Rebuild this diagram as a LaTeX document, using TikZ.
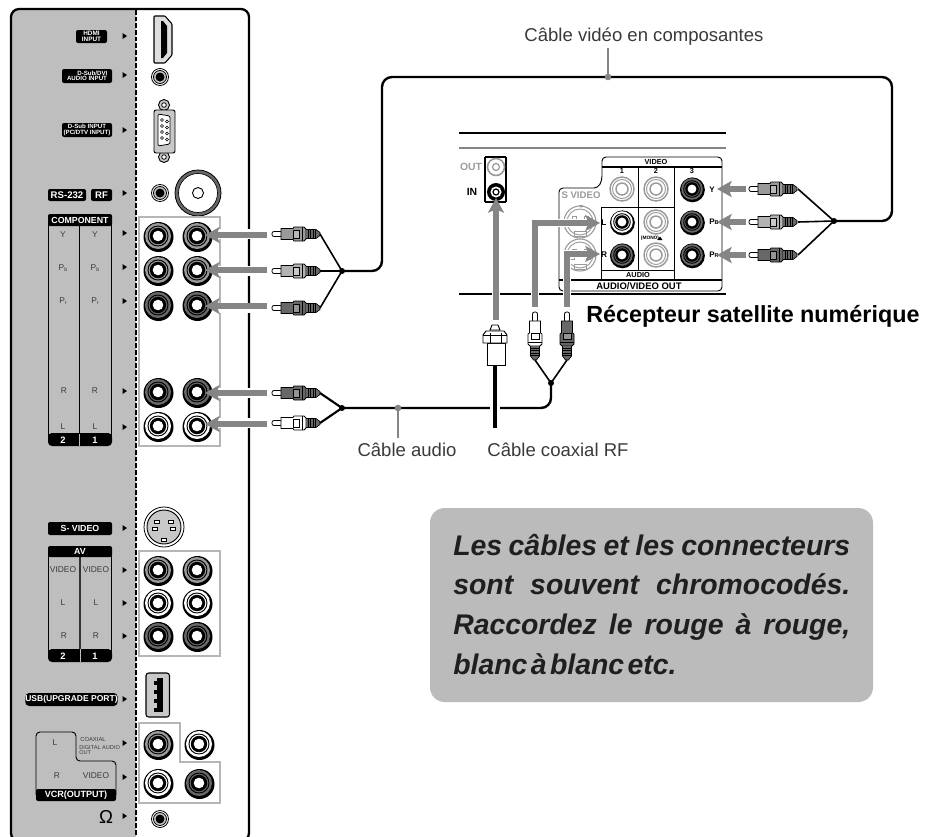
\documentclass[tikz,border=0pt]{standalone}
\usepackage{fontspec}
\setmainfont{Liberation Sans}
\usetikzlibrary{arrows.meta}
\definecolor{panelg}{HTML}{BEBEBE}
\definecolor{arrg}{HTML}{858585}
\definecolor{boxg}{HTML}{BBBBBB}
\definecolor{lightj}{HTML}{C8C8C8}
\definecolor{midj}{HTML}{9A9A9A}
\definecolor{darkj}{HTML}{686868}
\definecolor{txtg}{HTML}{3A3A3A}
\newcommand\fsz[1]{\fontsize{#1}{#1}\selectfont}
% RCA jack: x y scale colour
\newcommand\jackr[4]{\begin{scope}[shift={(#1,#2)},scale=#3]
 \fill[black] (0.5,1) circle (15);
 \fill[#4] (0,0) circle (13);
 \draw[line width=.7pt] (0,0) circle (10);
 \fill[black] (0,0) circle (8.2);
 \fill[white] (0,0) circle (5.3);
\end{scope}}
% pale jack of the receiver
\newcommand\jackp[2]{\begin{scope}[shift={(#1,#2)}]
 \draw[midj,fill=white,line width=1.1pt] (0,0) circle (12);
 \draw[midj,line width=.7pt] (0,0) circle (9.5);
 \draw[midj,line width=1.1pt] (0,0) circle (6);
\end{scope}}
% small audio jack
\newcommand\jacks[2]{\begin{scope}[shift={(#1,#2)}]
 \draw[fill=white,line width=.6pt] (0,0) circle (8.5);
 \draw[fill=lightj,line width=.6pt] (0,0) circle (6.5);
 \fill[black] (0,0) circle (4.5);
\end{scope}}
% RCA plug: x y rotation colour (tip at x y)
\newcommand\plugr[4]{\begin{scope}[shift={(#1,#2)},rotate=#3]
 \draw[fill=white,line width=.6pt,rounded corners=1.5] (0,-2.5) rectangle (10,2.5);
 \draw[fill=#4,line width=.6pt] (9,-5.5)--(21,-5.5)--(22,-7)--(32,-7)--(34,-5)--(34,5)--(32,7)--(22,7)--(21,5.5)--(9,5.5)--cycle;
 \draw[line width=.5pt,fill=#4!70!white] (21,-4)rectangle(27,4);
 \draw[line width=.5pt] (30,-7)--(30,7);
 \fill[darkj] (34,-4.5)--(44,-4.5)--(48,-1.5)--(48,1.5)--(44,4.5)--(34,4.5)--cycle;
 \draw[line width=.5pt] (34,-4.5)--(44,-4.5)--(48,-1.5)--(48,1.5)--(44,4.5)--(34,4.5);
 \foreach \q in {36,38.5,41,43.5}{\draw[line width=.7pt] (\q,-4.5)--(\q,4.5);}
\end{scope}}
% black label given by its corners
\newcommand\blab[7][]{\node[blk,#1,minimum width={(#5-#3)*0.75pt},minimum height={(#6-#4)*0.75pt}] (#2) at ({(#3+#5)/2},{(#4+#6)/2}) {#7};}
\tikzset{
 blk/.style={fill=black,rounded corners=1.5pt,text=white,inner sep=0pt,align=center,font=\bfseries\fsz{4.8}},
 ptxt/.style={text=txtg,inner sep=0pt,font=\fsz{6.3}},
 captext/.style={text=txtg,inner sep=0pt,font=\fsz{13.9}},
 cable/.style={line width=1.8pt,black,rounded corners=7.5pt,line cap=round},
 fork/.style={line width=1.2pt,black},
 leader/.style={arrg,line width=1.6pt},
 grid/.style={line width=.7pt,black},
 gbox/.style={arrg!60!white,line width=1.6pt},
 devline/.style={line width=.9pt,black},
 halo/.style={white,line width=7.5pt},
 garr/.style={arrg,line width=4pt,-{Stealth[length=11pt,width=12pt,inset=2.5pt]}},
 devt/.style={inner sep=0pt,font=\bfseries\fsz{5.5}},
 notet/.style={inner sep=0pt,anchor=base west,text=black!88,font=\bfseries\itshape\fsz{21.3}},
}
\begin{document}
\begin{tikzpicture}[x=0.75pt,y=-0.75pt]
\useasboundingbox (0,0) rectangle (936,836);
\clip (0,0) rectangle (936,836);
\fill[white] (0,0) rectangle (936,836);

% ===== TV panel =====
\fill[panelg,rounded corners=6pt] (11,9) rectangle (136,841);
\fill[panelg] (100,9) rectangle (136,841);
\draw[line width=1.7pt,rounded corners=6pt] (11,9) rectangle (249,841);
\draw[line width=1.1pt,dash pattern=on 3.5pt off 1.5pt] (136,10) -- (136,836);
\foreach \yy in {36,75,130,193,233,267,301,391,427,528,570,603,636,699,743,777,816}{
 \fill[black] (122.5,\yy-3) -- (127,\yy) -- (122.5,\yy+3) -- cycle;}

% labels
\blab{lhdmi}{76}{30}{107}{43}{HDMI\\[-.5pt]INPUT}
\blab[font=\bfseries\fsz{4.6}]{laud}{62}{69}{112}{83}{\hspace*{8pt}D-Sub/DVI\\[-.5pt]AUDIO INPUT}
\blab[font=\bfseries\fsz{4.6}]{lsub}{62}{123}{112}{137}{D-Sub INPUT\\[-.5pt](PC/DTV INPUT)}
\blab[font=\bfseries\fsz{7.2}]{lrs}{48}{189}{86}{201}{RS-232}
\blab[font=\bfseries\fsz{7.2}]{lrf}{91}{189}{112}{201}{RF}

% COMPONENT block
\draw[grid] (48,220) -- (48,440) (79,220) -- (79,446) (111,220) -- (111,440);
\blab[font=\bfseries\fsz{6.6}]{lcomp}{48}{214}{112}{226}{COMPONENT}
\blab[font=\bfseries\fsz{7},rounded corners=3pt]{lbar}{48}{433}{112}{446}{}
\draw[panelg,line width=.5pt] (79,434) -- (79,446);
\node[text=white,inner sep=0pt,font=\bfseries\fsz{7}] (n2a) at (63,440) {2};
\node[text=white,inner sep=0pt,font=\bfseries\fsz{7}] (n1a) at (95,440) {1};
\node[ptxt] (t1) at (63,235) {Y};
\node[ptxt] (t2) at (95,235) {Y};
\node[ptxt] (t3) at (63,268) {P\raisebox{-1pt}{\fsz{4}b}};
\node[ptxt] (t4) at (95,268) {P\raisebox{-1pt}{\fsz{4}b}};
\node[ptxt] (t5) at (63,301) {P\raisebox{-1pt}{\fsz{4}r}};
\node[ptxt] (t6) at (95,301) {P\raisebox{-1pt}{\fsz{4}r}};
\node[ptxt] (t7) at (64,391) {R};
\node[ptxt] (t8) at (95,391) {R};
\node[ptxt] (t9) at (63,427) {L};
\node[ptxt] (t10) at (95,427) {L};

% S-VIDEO and AV
\blab[font=\bfseries\fsz{6.6}]{lsv}{48}{522}{112}{535}{S- VIDEO}
\draw[grid] (48,552) -- (48,655) (111,552) -- (111,655);
\draw[line width=1.1pt,black!80] (80,552) -- (80,660);
\blab[font=\bfseries\fsz{6.6}]{lav}{48}{546}{112}{557}{AV}
\blab[rounded corners=3pt]{lbar2}{48}{649}{112}{662}{}
\draw[panelg,line width=.7pt] (80,649) -- (80,662);
\node[text=white,inner sep=0pt,font=\bfseries\fsz{7}] (n2b) at (63,656) {2};
\node[text=white,inner sep=0pt,font=\bfseries\fsz{7}] (n1b) at (95,656) {1};
\node[ptxt] (u1) at (63,570) {VIDEO};
\node[ptxt] (u2) at (96,570) {VIDEO};
\node[ptxt] (u3) at (63,603) {L};
\node[ptxt] (u4) at (96,603) {L};
\node[ptxt] (u5) at (64,636) {R};
\node[ptxt] (u6) at (96,636) {R};

% USB and VCR
\blab[font=\bfseries\fsz{6.4},rounded corners=3pt]{lusb}{28}{693}{115}{706}{USB(UPGRADE PORT)}
\draw[grid,rounded corners=3pt] (36,795) -- (36,732) -- (76,732) -- (76,761) -- (116,761) -- (116,795);
\blab[font=\bfseries\fsz{6.8}]{lvcr}{36}{789}{116}{801}{VCR(OUTPUT)}
\node[ptxt] (v1) at (55,743) {L};
\node[ptxt] (v2) at (57,776) {R};
\node[ptxt] (v3) at (96,776) {VIDEO};
\node[ptxt,anchor=west,font=\fsz{4.4}] (v4) at (80,739) {COAXIAL};
\node[ptxt,anchor=north west,align=left,font=\fsz{4.2}] (v5) at (79,745) {DIGITAL AUDIO\\OUT};
\node[inner sep=0pt,font=\fsz{14}] (v6) at (106,817) {Ω};

% connectors of the TV
\draw[line width=.8pt,fill=lightj!60!white,rounded corners=.6pt] (154,16) -- (165,16) -- (172,24) -- (172,55) -- (165,63) -- (154,63) -- cycle;
\fill[black] (161,21) -- (163,21) -- (167,26) -- (167,53) -- (163,58) -- (161,58) -- cycle;
\jacks{160}{77}
\foreach \yy in {105,157}{
 \draw[line width=.7pt,fill=lightj] (164,\yy) circle (5.5);
 \draw[line width=.6pt,fill=white] (164,\yy) circle (2.3);}
\draw[line width=.7pt,fill=lightj,rounded corners=1.5pt] (154,110) rectangle (175,153);
\draw[line width=.6pt,fill=white,rounded corners=1pt] (158,114) -- (170,116) -- (170,144) -- (158,146) -- cycle;
\foreach \yy in {120,126,132,138}{
 \draw[line width=.4pt] (162,\yy) circle (1.4) (167,\yy+1.5) circle (1.4);}
\jacks{160}{193}
\draw[line width=.6pt,fill=darkj] (198,193) circle (23);
\draw[line width=.5pt,fill=white] (198,193) circle (19.5);
\draw[line width=.7pt,fill=white] (198,193) circle (5.5);

\draw[gbox] (139,217) rectangle (220,446);
\foreach \xx/\yy/\cc in {158/236/midj,197/236/midj,158/270/midj,197/270/midj,158/305/darkj,197/305/darkj,158/392/darkj,197/392/darkj,158/426/white,197/426/white}{
 \jackr{\xx}{\yy}{1}{\cc}}

\draw[line width=.6pt,fill=white] (164,527) circle (20);
\draw[line width=.7pt,fill=lightj] (164,527) circle (17);
\foreach \xx/\yy in {157/522,171/522,155/529,173/529,164/540}{
 \draw[line width=.6pt,fill=white] (\xx-2.5,\yy-1.7) rectangle (\xx+2.5,\yy+1.7);}

\draw[gbox] (139,551) rectangle (220,656);
\foreach \xx/\yy/\cc in {158/570/midj,197/570/midj,158/603/white,197/603/white,158/636/darkj,197/636/darkj}{
 \jackr{\xx}{\yy}{1}{\cc}}

\draw[line width=.8pt,fill=lightj,rounded corners=2pt] (146,673) rectangle (169.5,717);
\fill[black] (157,678) rectangle (163,712);
\foreach \yy in {683,692,701,710}{\fill[black] (154,\yy-2) rectangle (158,\yy+2);}

\draw[gbox] (139,723) -- (180,723) -- (180,762) -- (220,762) -- (220,803) -- (139,803) -- cycle;
\jackr{158}{744}{1}{midj}
\jackr{199}{744}{1}{white}
\jackr{158}{783}{1}{white}
\jackr{199}{783}{1}{darkj}
\jacks{160}{819}

% ===== Receiver =====
\draw[devline] (459,133) -- (726,133);
\draw[arrg,line width=1.1pt] (459,148) -- (726,148);
\draw[devline] (459,294) -- (726,294);
\draw[devline] (506,157) -- (485,157) (485,202) -- (506,202) (506,157) -- (506,202) (485,157) -- (485,202);
\node[inner sep=0pt,text=arrg!80!white,font=\bfseries\fsz{7.8}] (tout) at (471,167) {OUT};
\node[inner sep=0pt,font=\bfseries\fsz{7.8}] (tin) at (472,192) {IN};
\begin{scope}[shift={(496,167)}]
 \draw[midj,fill=white,line width=1.2pt] (0,0) circle (8.5);
 \draw[midj,line width=.9pt] (0,0) circle (3.5);
\end{scope}
\begin{scope}[shift={(496,192)}]
 \fill[black] (0,0) circle (9);
 \fill[white] (0,0) circle (5.5);
 \draw[line width=.9pt] (0,0) circle (3);
\end{scope}

\draw[line width=.7pt,rounded corners=3pt] (602,167) -- (602,157) -- (722,157) -- (722,291) -- (559,291) -- (559,188) -- (598,188) -- (602,180) -- (602,167);
\draw[devline,line width=.8pt] (602,167) -- (722,167) (559,280) -- (722,280);
\draw[line width=.7pt] (638,167) -- (638,270) (674,167) -- (674,280);
\draw[line width=.7pt] (601,207) rectangle (674,280);
\draw[line width=.7pt] (601,270) -- (674,270);
\node[devt] (tvid) at (656,162) {VIDEO};
\node[devt] (n1) at (622,171) {1};
\node[devt] (n2) at (656,171) {2};
\node[devt] (n3) at (692,171) {3};
\node[devt] (taud) at (638,275) {AUDIO};
\node[inner sep=0pt,font=\bfseries\fsz{7.1}] (tavo) at (639,286) {AUDIO/VIDEO OUT};
\node[inner sep=0pt,text=midj,font=\bfseries\fsz{7.2}] (tsv) at (581,195) {S VIDEO};
\foreach \yy in {222,255}{
 \draw[midj,fill=white,line width=.8pt] (580,\yy) circle (16);
 \draw[midj,line width=.7pt] (580,\yy) circle (13);
 \foreach \xa/\ya in {-6/-4,6/-4,-8/3,8/3}{\draw[midj,line width=.5pt] (580+\xa-2,\yy+\ya-1.3) rectangle (580+\xa+2,\yy+\ya+1.3);}
 \draw[midj,line width=.7pt] (574,\yy+9) rectangle (586,\yy+14);
}
\fill[midj] (579,205) -- (583,205) -- (581,208) -- cycle;
\jackp{622}{189}
\jackp{656}{189}
\jackp{656}{222}
\jackp{656}{255}
\jackr{622}{222}{.83}{white}
\jackr{622}{255}{.83}{darkj}
\foreach \yy in {189,222,255}{\jackr{692}{\yy}{.83}{darkj}}
\node[inner sep=0pt,font=\bfseries\fsz{6.2}] (tL) at (604,223) {L};
\node[inner sep=0pt,font=\bfseries\fsz{6.2}] (tR) at (604,255) {R};
\node[inner sep=0pt,font=\bfseries\fsz{6}] (tY) at (712,190) {Y};
\node[inner sep=0pt,font=\bfseries\fsz{6}] (tPb) at (714,222) {P\fsz{4.2}B};
\node[inner sep=0pt,font=\bfseries\fsz{6}] (tPr) at (714,255) {P\fsz{4.2}R};
\node[inner sep=0pt,font=\bfseries\fsz{3.6}] (tmono) at (650,238) {(MONO)};
\fill[black] (660,236.5) -- (662.5,240) -- (657.5,240) -- cycle;

% ===== named connection points =====
\coordinate (tv1) at (205,235);
\coordinate (tv2) at (205,270);
\coordinate (tv3) at (205,306);
\coordinate (tv4) at (205,393);
\coordinate (tv5) at (205,424);
\coordinate (pa1) at (272,234);
\coordinate (pa2) at (272,271);
\coordinate (pa3) at (272,308);
\coordinate (pa4) at (272,393);
\coordinate (pa5) at (272,423);
\coordinate (ea1) at (320,234);
\coordinate (ea2) at (320,271);
\coordinate (ea3) at (320,308);
\coordinate (ea4) at (320,393);
\coordinate (ea5) at (320,423);
\coordinate (ja) at (342,271);
\coordinate (jb) at (342,408);
\coordinate (rv1) at (717,189);
\coordinate (rv2) at (717,222);
\coordinate (rv3) at (717,255);
\coordinate (pr1) at (749,189);
\coordinate (pr2) at (749,222);
\coordinate (pr3) at (749,255);
\coordinate (er1) at (798,189);
\coordinate (er2) at (798,222);
\coordinate (er3) at (798,255);
\coordinate (jc) at (834,221);
\coordinate (jd) at (551,383);
\coordinate (pl) at (535,312);
\coordinate (pk) at (567,312);
\coordinate (el) at (535,360);
\coordinate (ek) at (567,360);

% gray insertion arrows
\foreach \a in {pa1,pa2,pa3,pa4,pa5}{
 \draw[halo] ([xshift=-3pt]\a) -- ([xshift=-40pt]\a);}
\draw[garr] (267,235) -- (tv1);
\draw[garr] (267,270) -- (tv2);
\draw[garr] (267,306) -- (tv3);
\draw[garr] (267,393) -- (tv4);
\draw[garr] (267,424) -- (tv5);
\draw[garr] (746,189) -- (rv1);
\draw[garr] (746,222) -- (rv2);
\draw[garr] (746,255) -- (rv3);
% audio arrows to the receiver
\draw[halo,line width=6.5pt] (535,302) -- (535,223) -- (590,223);
\draw[halo,line width=6.5pt] (567,302) -- (567,254) -- (590,254);
\draw[garr] (535,307) -- (535,223) -- (600,223);
\draw[garr] (567,307) -- (567,254) -- (600,254);

% plugs
\plugr{272}{234}{0}{midj}
\plugr{272}{271}{0}{midj!75!white}
\plugr{272}{308}{0}{darkj}
\plugr{272}{393}{0}{darkj}
\plugr{272}{423}{0}{white}
\plugr{749}{189}{0}{midj}
\plugr{749}{222}{0}{midj!75!white}
\plugr{749}{255}{0}{darkj}
\plugr{535}{312}{-90}{white}
\plugr{567}{312}{-90}{darkj}

% cables
\draw[fork] (ea1) -- (ja);
\draw[fork] (ea2) -- (ja);
\draw[fork] (ea3) -- (ja);
\draw[fork,line width=1.6pt] (ea4) -- (jb);
\draw[fork,line width=1.6pt] (ea5) -- (jb);
\draw[fork] (er1) -- (jc);
\draw[fork] (er2) -- (jc);
\draw[fork] (er3) -- (jc);
\draw[fork] (el) -- (jd);
\draw[fork] (ek) -- (jd);
\fill (ja) circle (3) (jb) circle (3) (jc) circle (3) (jd) circle (3);
\draw[cable] (ja) -- (382,271) -- (382,77) -- (892,77) -- (892,221) -- (jc);
\draw[cable] (jb) -- (551,408) -- (jd);

% coaxial cable
\coordinate (coaxt) at (496,198);
\coordinate (coaxp) at (495,325);
\coordinate (coaxe) at (495,428);
\draw[halo,line width=6.5pt] (496,302) -- (496,215);
\draw[garr] (496,320) -- (coaxt);
\draw[white,line width=7pt] (495,400) -- (495,416);
\draw[line width=2.6pt] (495,365) -- (coaxe);
\draw[line width=.7pt,fill=white] (487,343) rectangle (505,365);
\draw[line width=.7pt,fill=white] (490,330) -- (492,325) -- (498,325) -- (500,330) -- cycle;
\draw[line width=.7pt,fill=white] (483,335) -- (486,331) -- (504,331) -- (507,335) -- (507,343) -- (483,343) -- cycle;
\draw[line width=.6pt] (490,333) -- (490,343) (501,333) -- (501,343);
\draw[line width=.6pt] (483,335) -- (507,335);

% captions and leaders
\node[captext] (capv) at (644,37) {Câble vidéo en composantes};
\node[captext] (capa) at (407,450) {Câble audio};
\node[captext] (capc) at (558,450) {Câble coaxial RF};
\coordinate (lva) at (608,48);
\coordinate (lvb) at (608,77);
\coordinate (laa) at (398,438);
\coordinate (lab) at (398,408);
\draw[leader] (lva) -- (lvb);
\draw[leader] (laa) -- (lab);
\fill[arrg] (lvb) circle (3.3) (lab) circle (3.3);
\node[inner sep=0pt,anchor=west,font=\bfseries\fsz{17.5}] (capr) at (586,316) {Récepteur satellite numérique};

% note box
\fill[boxg,rounded corners=11pt] (430,508) rectangle (873,702);
\node[notet] (note1) at (453,555) {\makebox[297.75pt][s]{Les câbles et les connecteurs}};
\node[notet] (note2) at (453,594) {\makebox[297.75pt][s]{sont souvent chromocodés.}};
\node[notet] (note3) at (453,634) {\makebox[297.75pt][s]{Raccordez le rouge à rouge,}};
\node[notet] (note4) at (453,674) {blanc\hspace{.12em}à\hspace{.12em}blanc\hspace{.12em}etc.};
\end{tikzpicture}
\end{document}
